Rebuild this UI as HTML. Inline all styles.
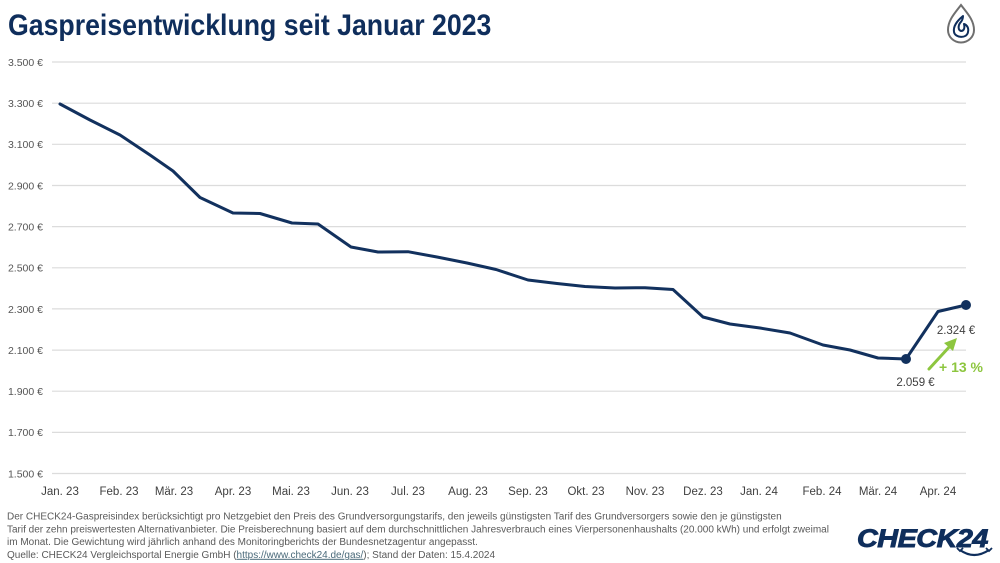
<!DOCTYPE html>
<html><head><meta charset="utf-8"><style>
html,body{margin:0;padding:0;background:#fff;}
svg{display:block;}
</style></head><body>
<svg width="1000" height="563" viewBox="0 0 1000 563" xmlns="http://www.w3.org/2000/svg" font-family="Liberation Sans, sans-serif">
<rect width="1000" height="563" fill="#fff"/>
<!-- Title -->
<text x="8" y="35" font-size="30" font-weight="bold" fill="#0f2e5c" transform="translate(8 0) scale(0.89 1) translate(-8 0)">Gaspreisentwicklung seit Januar 2023</text>
<!-- gas icon -->
<path d="M961,5 C955,13 948,20 948,30 A13,12.5 0 0,0 974,30 C974,20 967,13 961,5 Z" fill="none" stroke="#6f6f6f" stroke-width="2"/>
<path d="M963,16 C957,21 953,26 954,32 C955,38 967,39 968,32 C969,28 967,25 964,24 C965,28 964,31 961,31 C958,30 958,26 960,23 C962,21 963,19 963,16 Z" fill="none" stroke="#0f2e5c" stroke-width="2" stroke-linejoin="round"/>
<!-- grid -->
<g stroke="#dcdcdc" stroke-width="1.2">
<line x1="52" x2="966" y1="62" y2="62"/>
<line x1="52" x2="966" y1="103.2" y2="103.2"/>
<line x1="52" x2="966" y1="144.3" y2="144.3"/>
<line x1="52" x2="966" y1="185.5" y2="185.5"/>
<line x1="52" x2="966" y1="226.6" y2="226.6"/>
<line x1="52" x2="966" y1="267.8" y2="267.8"/>
<line x1="52" x2="966" y1="308.9" y2="308.9"/>
<line x1="52" x2="966" y1="350.1" y2="350.1"/>
<line x1="52" x2="966" y1="391.2" y2="391.2"/>
<line x1="52" x2="966" y1="432.4" y2="432.4"/>
<line x1="52" x2="966" y1="473.5" y2="473.5"/>
</g>
<!-- y labels -->
<g font-size="10.5" fill="#555" text-anchor="end">
<text x="43" y="66">3.500 €</text>
<text x="43" y="107">3.300 €</text>
<text x="43" y="148">3.100 €</text>
<text x="43" y="189.5">2.900 €</text>
<text x="43" y="230.5">2.700 €</text>
<text x="43" y="271.5">2.500 €</text>
<text x="43" y="313">2.300 €</text>
<text x="43" y="354">2.100 €</text>
<text x="43" y="395">1.900 €</text>
<text x="43" y="436">1.700 €</text>
<text x="43" y="477.5">1.500 €</text>
</g>
<!-- x labels -->
<g font-size="11.5" fill="#404040" text-anchor="middle">
<text x="60" y="495">Jan. 23</text>
<text x="119" y="495">Feb. 23</text>
<text x="174" y="495">Mär. 23</text>
<text x="233" y="495">Apr. 23</text>
<text x="291" y="495">Mai. 23</text>
<text x="350" y="495">Jun. 23</text>
<text x="408" y="495">Jul. 23</text>
<text x="468" y="495">Aug. 23</text>
<text x="528" y="495">Sep. 23</text>
<text x="586" y="495">Okt. 23</text>
<text x="645" y="495">Nov. 23</text>
<text x="703" y="495">Dez. 23</text>
<text x="759" y="495">Jan. 24</text>
<text x="822" y="495">Feb. 24</text>
<text x="878" y="495">Mär. 24</text>
<text x="938" y="495">Apr. 24</text>
</g>
<!-- data line -->
<polyline fill="none" stroke="#12315e" stroke-width="3" stroke-linejoin="round" stroke-linecap="round"
points="60,104 90,120 120,135 150,155 173,171 200,197.5 233,213 260,213.5 292,223 318,224 351,247 378,252 408,251.7 437,257 467,263 496,269.5 528,280 557,283.5 585,286.5 615,288 645,287.7 673,289.5 703,317 730,324 760,328 790,333 823,345 850,350 878,358 906,359 938,311.5 966,305"/>
<circle cx="906" cy="359" r="5" fill="#12315e"/>
<circle cx="966" cy="305" r="5" fill="#12315e"/>
<!-- annotations -->
<text x="956" y="334" font-size="11.5" fill="#404040" text-anchor="middle">2.324 €</text>
<text x="915.5" y="386" font-size="11.5" fill="#404040" text-anchor="middle">2.059 €</text>
<line x1="929" y1="369" x2="951" y2="345" stroke="#8dc63f" stroke-width="3" stroke-linecap="round"/>
<polygon points="957,338 944,343 953,351" fill="#8dc63f"/>
<text x="939" y="372" font-size="14" font-weight="bold" fill="#8dc63f">+ 13 %</text>
<!-- footnote -->
<g font-size="10" fill="#5a5a5a">
<text x="7" y="519.5">Der CHECK24-Gaspreisindex berücksichtigt pro Netzgebiet den Preis des Grundversorgungstarifs, den jeweils günstigsten Tarif des Grundversorgers sowie den je günstigsten</text>
<text x="7" y="532.3">Tarif der zehn preiswertesten Alternativanbieter. Die Preisberechnung basiert auf dem durchschnittlichen Jahresverbrauch eines Vierpersonenhaushalts (20.000 kWh) und erfolgt zweimal</text>
<text x="7" y="545">im Monat. Die Gewichtung wird jährlich anhand des Monitoringberichts der Bundesnetzagentur angepasst.</text>
<text x="7" y="557.8">Quelle: CHECK24 Vergleichsportal Energie GmbH (<tspan text-decoration="underline" fill="#4a6a7a">https://www.check24.de/gas/</tspan>); Stand der Daten: 15.4.2024</text>
</g>
<!-- CHECK24 logo -->
<text x="857" y="547" font-size="25" font-weight="bold" font-style="italic" fill="#0f2e5c" stroke="#0f2e5c" stroke-width="0.9" transform="translate(857 0) scale(1.15 1) translate(-857 0)" letter-spacing="-0.4">CHECK24</text>
<path d="M960,550 Q974,560 989,550" fill="none" stroke="#0f2e5c" stroke-width="2.2"/>
<path d="M957,548 L960,551 L963,548" fill="none" stroke="#0f2e5c" stroke-width="1.8"/>
<path d="M986,548 L989,551 L992,548" fill="none" stroke="#0f2e5c" stroke-width="1.8"/>
</svg>
</body></html>
